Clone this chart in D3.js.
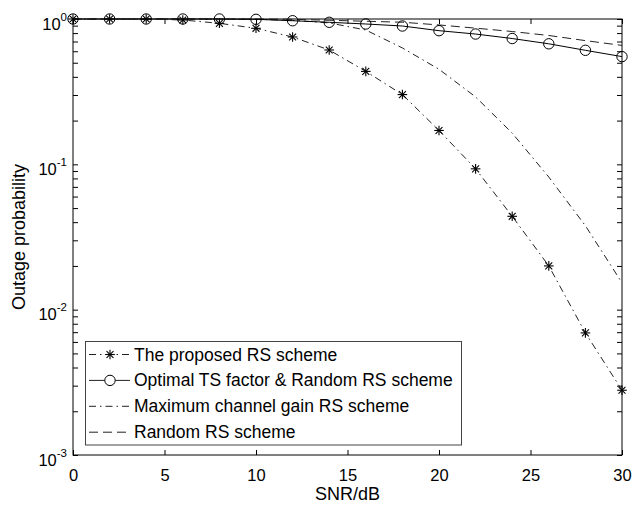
<!DOCTYPE html>
<html>
<head>
<meta charset="utf-8">
<script src="https://cdn.jsdelivr.net/npm/d3@7"></script>
<style>
  html, body { margin: 0; padding: 0; background: #fff; }
  svg { display: block; font-family: "Liberation Sans", Arial, Helvetica, sans-serif; }
</style>
</head>
<body>
<svg id="chart" width="633" height="507"></svg>
<script>
// ---- data ----
const snrDb = [0, 2, 4, 6, 8, 10, 12, 14, 16, 18, 20, 22, 24, 26, 28, 30];
const proposedRS = [1, 1, 1, 0.984, 0.934, 0.863, 0.752, 0.612, 0.436, 0.302, 0.171, 0.0931, 0.0439, 0.0200, 0.00692, 0.00279];
const optimalTS = [1, 1, 1, 1, 1, 0.995, 0.973, 0.949, 0.924, 0.895, 0.831, 0.788, 0.734, 0.675, 0.609, 0.551];
const maxGainRS = [1, 1, 1, 1, 0.999, 0.995, 0.98, 0.94, 0.84, 0.632, 0.451, 0.291, 0.164, 0.0817, 0.0378, 0.0153];
const randomRS = [1, 1, 1, 1, 1, 1, 0.995, 0.98, 0.965, 0.95, 0.91, 0.865, 0.82, 0.77, 0.71, 0.658];
const xTicks = [0, 5, 10, 15, 20, 25, 30];
const yMajorTicks = [1e-3, 1e-2, 1e-1, 1];
const yExponents = ["-3", "-2", "-1", "0"];
const legendLabels = ["The proposed RS scheme", "Optimal TS factor & Random RS scheme", "Maximum channel gain RS scheme", "Random RS scheme"];

// ---- layout ----
const L = 73, R = 622, T = 19, B = 455;
const svg = d3.select("#chart");
const x = d3.scaleLinear().domain([0, 30]).range([L, R]);
const y = d3.scaleLog().domain([1e-3, 1]).range([B, T]);

const yMinor = [];
for (let e = -3; e < 0; e++) for (let k = 2; k <= 9; k++) yMinor.push(k * Math.pow(10, e));

const tk = 5;
function styleAxis(g) {
  g.select(".domain").remove();
  g.selectAll(".tick line").attr("stroke", "#000").attr("stroke-width", 1);
}
// bottom
svg.append("g").attr("transform", `translate(0,${B})`)
  .call(d3.axisBottom(x).tickValues(xTicks).tickSize(-tk).tickPadding(14).tickFormat(d3.format("d")))
  .call(styleAxis)
  .call(g => g.selectAll("text").attr("font-size", 16.5).attr("fill", "#000").attr("font-family", "Liberation Sans, Arial, sans-serif"));
// top
svg.append("g").attr("transform", `translate(0,${T})`)
  .call(d3.axisTop(x).tickValues(xTicks).tickSize(-tk).tickFormat(""))
  .call(styleAxis);
// left major + minor
const leftMajor = svg.append("g").attr("transform", `translate(${L},0)`)
  .call(d3.axisLeft(y).tickValues(yMajorTicks).tickSize(-tk).tickFormat(""))
  .call(styleAxis);
svg.append("g").attr("transform", `translate(${L},0)`)
  .call(d3.axisLeft(y).tickValues(yMinor).tickSize(-tk).tickFormat(""))
  .call(styleAxis);
// right major + minor
svg.append("g").attr("transform", `translate(${R},0)`)
  .call(d3.axisRight(y).tickValues(yMajorTicks).tickSize(-tk).tickFormat(""))
  .call(styleAxis);
svg.append("g").attr("transform", `translate(${R},0)`)
  .call(d3.axisRight(y).tickValues(yMinor).tickSize(-tk).tickFormat(""))
  .call(styleAxis);

// y tick labels 10^n
leftMajor.selectAll(".tick").each(function(d) {
  const t = d3.select(this).select("text");
  t.attr("x", -6).attr("dy", null).attr("y", 10)
    .attr("text-anchor", "end").attr("fill", "#000").attr("font-size", 16.5)
    .attr("font-family", "Liberation Sans, Arial, sans-serif");
  t.text(null);
  t.append("tspan").text("10");
  t.append("tspan").attr("dy", -9).attr("font-size", 11.5).text(yExponents[yMajorTicks.indexOf(d)]);
});

// box
svg.append("rect").attr("x", L).attr("y", T).attr("width", R - L).attr("height", B - T)
  .attr("fill", "none").attr("stroke", "#000").attr("stroke-width", 1);

// axis titles
svg.append("text").attr("x", (L + R) / 2).attr("y", 500).attr("text-anchor", "middle")
  .attr("font-size", 18).attr("fill", "#000").text("SNR/dB");
svg.append("text").attr("transform", `translate(25,${(T + B) / 2}) rotate(-90)`)
  .attr("text-anchor", "middle").attr("font-size", 18).attr("fill", "#000").text("Outage probability");

// ---- series ----
const line = d3.line().x(d => x(d[0])).y(d => y(d[1]));
const zip = vals => snrDb.map((s, i) => [s, vals[i]]);

const dashDot = "7,4,1.5,4";
const dashed = "9,5";

svg.append("path").datum(zip(randomRS)).attr("d", line)
  .attr("fill", "none").attr("stroke", "#222").attr("stroke-width", 1).attr("stroke-dasharray", dashed);
svg.append("path").datum(zip(maxGainRS)).attr("d", line)
  .attr("fill", "none").attr("stroke", "#222").attr("stroke-width", 1).attr("stroke-dasharray", dashDot);
svg.append("path").datum(zip(optimalTS)).attr("d", line)
  .attr("fill", "none").attr("stroke", "#000").attr("stroke-width", 1);
svg.append("path").datum(zip(proposedRS)).attr("d", line)
  .attr("fill", "none").attr("stroke", "#222").attr("stroke-width", 1).attr("stroke-dasharray", dashDot);

function star(g, cx, cy, r) {
  const s = g.append("g").attr("transform", `translate(${cx},${cy})`)
    .attr("stroke", "#000").attr("stroke-width", 1.1);
  const a = r * 0.72;
  s.append("line").attr("x1", 0).attr("y1", -r).attr("x2", 0).attr("y2", r);
  s.append("line").attr("x1", -r).attr("y1", 0).attr("x2", r).attr("y2", 0);
  s.append("line").attr("x1", -a).attr("y1", -a).attr("x2", a).attr("y2", a);
  s.append("line").attr("x1", -a).attr("y1", a).attr("x2", a).attr("y2", -a);
}

svg.append("g").selectAll("circle").data(zip(optimalTS)).join("circle")
  .attr("cx", d => x(d[0])).attr("cy", d => y(d[1])).attr("r", 5.2)
  .attr("fill", "none").attr("stroke", "#000").attr("stroke-width", 1);
const starG = svg.append("g");
zip(proposedRS).forEach(d => star(starG, x(d[0]), y(d[1]), 4.8));

// ---- legend ----
const lg = svg.append("g");
lg.append("rect").attr("x", 85.5).attr("y", 341.5).attr("width", 376).attr("height", 103.5)
  .attr("fill", "#fff").attr("stroke", "#444").attr("stroke-width", 1);
const rowY = d => 354.5 + d * 25.9;
const styles = [
  { dash: dashDot, marker: "star" },
  { dash: null, marker: "circle" },
  { dash: dashDot, marker: null },
  { dash: dashed, marker: null }
];
legendLabels.forEach((lab, i) => {
  const yy = rowY(i);
  const ln = lg.append("line").attr("x1", 89).attr("x2", 130).attr("y1", yy).attr("y2", yy)
    .attr("stroke", "#222").attr("stroke-width", 1);
  if (styles[i].dash) ln.attr("stroke-dasharray", styles[i].dash);
  if (styles[i].marker === "star") star(lg, 110, yy, 4.8);
  if (styles[i].marker === "circle") lg.append("circle").attr("cx", 110).attr("cy", yy).attr("r", 5.2)
    .attr("fill", "#fff").attr("stroke", "#000");
  lg.append("text").attr("x", 134).attr("y", yy + 6).attr("font-size", 17.5).attr("fill", "#000").text(lab);
});
</script>
</body>
</html>
